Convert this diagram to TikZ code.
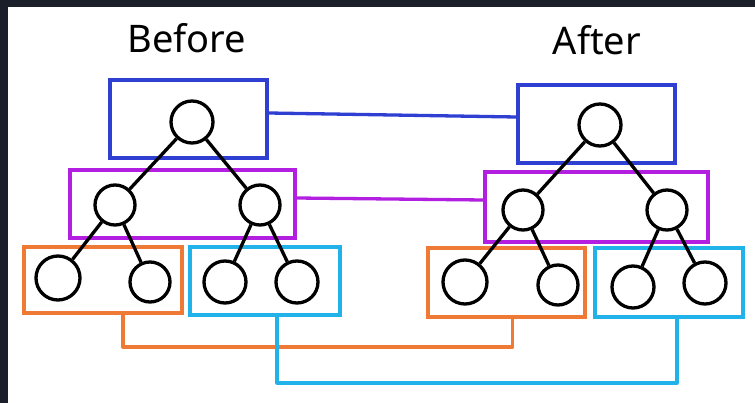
\documentclass[tikz,border=0pt]{standalone}
\usepackage{fontspec}
\setmainfont{Noto Sans}
\definecolor{frame}{HTML}{1B1F2A}
\definecolor{lvlone}{HTML}{2E3FD2}
\definecolor{lvltwo}{HTML}{B21FE0}
\definecolor{lvlorange}{HTML}{EE7A35}
\definecolor{lvlcyan}{HTML}{22B2EA}
\tikzset{
  box/.style={draw,rectangle,inner sep=0pt,line width=3.3pt},
  vtx/.style={draw,circle,inner sep=0pt,line width=3.3pt,fill=white},
  link/.style={line width=3.3pt,line join=round}
}

\begin{document}
\begin{tikzpicture}[x=1pt,y=-1pt]
  \useasboundingbox (0,0) rectangle (755,403);
  \fill[frame] (0,0) rectangle (755,403);
  \fill[white] (8,7) rectangle (755,403);
  \node[font=\fontsize{38}{42}\selectfont] (tb) at (187,38){Before};
  \node[font=\fontsize{38}{42}\selectfont] (ta) at (597,40){After};
  % boxes before
  \node[box,lvlone,minimum width=157pt,minimum height=78pt] (bbone) at (188.5,119){};
  \node[box,lvltwo,minimum width=225pt,minimum height=68pt] (bbtwo) at (182.5,204){};
  \node[box,lvlorange,minimum width=158pt,minimum height=66pt] (bbor) at (103,280){};
  \node[box,lvlcyan,minimum width=150pt,minimum height=68pt] (bbcy) at (265,281){};
  % boxes after
  \node[box,lvlone,minimum width=157pt,minimum height=78pt] (abone) at (596.5,124){};
  \node[box,lvltwo,minimum width=223pt,minimum height=70pt] (abtwo) at (596.5,207){};
  \node[box,lvlorange,minimum width=157pt,minimum height=69pt] (abor) at (506.5,282.5){};
  \node[box,lvlcyan,minimum width=148pt,minimum height=69pt] (abcy) at (669,282.5){};
  % links between the boxes
  \coordinate (orj) at (300,347);
  \coordinate (cyj) at (480,383);
  \draw[link,lvlone] ([yshift=6pt]bbone.east) -- ([yshift=7pt]abone.west);
  \draw[link,lvltwo] ([yshift=6pt]bbtwo.east) -- ([yshift=7pt]abtwo.west);
  \draw[link,lvlorange] ([xshift=20pt]bbor.south) |- (orj) -| ([xshift=6pt]abor.south);
  \draw[link,lvlcyan] ([xshift=12pt]bbcy.south) |- (cyj) -| ([xshift=8pt]abcy.south);
  % tree before
  \node[vtx,minimum size=42pt] (b0) at (192,122){};
  \node[vtx,minimum size=40pt] (b1) at (115,205){};
  \node[vtx,minimum size=40pt] (b2) at (260,205){};
  \node[vtx,minimum size=44pt] (b3) at (58,278){};
  \node[vtx,minimum size=40pt] (b4) at (150,282){};
  \node[vtx,minimum size=42pt] (b5) at (225,282){};
  \node[vtx,minimum size=42pt] (b6) at (297,282){};
  \draw[link] (b0) -- (b1) (b0) -- (b2) (b1) -- (b3) (b1) -- (b4) (b2) -- (b5) (b2) -- (b6);
  % tree after
  \node[vtx,minimum size=42pt] (a0) at (600,125){};
  \node[vtx,minimum size=40pt] (a1) at (523,210){};
  \node[vtx,minimum size=40pt] (a2) at (667,210){};
  \node[vtx,minimum size=44pt] (a3) at (465,282){};
  \node[vtx,minimum size=40pt] (a4) at (558,285){};
  \node[vtx,minimum size=42pt] (a5) at (633,287){};
  \node[vtx,minimum size=42pt] (a6) at (705,283){};
  \draw[link] (a0) -- (a1) (a0) -- (a2) (a1) -- (a3) (a1) -- (a4) (a2) -- (a5) (a2) -- (a6);
\end{tikzpicture}
\end{document}
